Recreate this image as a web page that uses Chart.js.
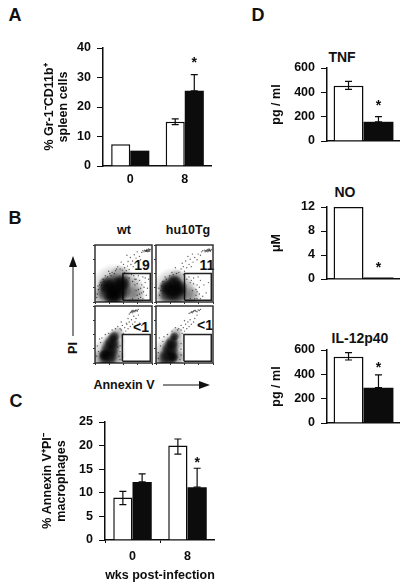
<!DOCTYPE html>
<html>
<head>
<meta charset="utf-8">
<script src="https://cdn.jsdelivr.net/npm/chart.js@4/dist/chart.umd.min.js"></script>
<style>
  body { margin: 0; background: #fff; width: 409px; height: 585px; position: relative; overflow: hidden; }
  canvas { position: absolute; }
  .t { position: absolute; font-family: "Liberation Sans", Arial, sans-serif; font-weight: bold; color: #111; white-space: nowrap; line-height: 1; transform: translate(-50%, -50%); }
  .letter { font-size: 18px; }
  .title { font-size: 14px; }
  .sub { font-size: 12.5px; }
  .gate { font-size: 14px; }
  svg { position: absolute; left: 0; top: 0; }
</style>
</head>
<body>
<div id="labels"></div>
<svg width="409" height="585">
  <line x1="73" y1="266" x2="73" y2="336" stroke="#111" stroke-width="1"/>
  <polygon points="73,256 69,267 77,267" fill="#111"/>
  <line x1="163" y1="385" x2="200" y2="385" stroke="#111" stroke-width="1"/>
  <polygon points="210,385 199,381 199,389" fill="#111"/>
</svg>
<script>
// panel A
const groupsA = ['0', '8'];
const whiteA = [7.4, 15];
const blackA = [5.2, 25.5];
const whiteErrA = [null, [14, 16]];
const blackErrA = [null, [25.5, 31]];
const starsA = [null, 36];

// panel C
const groupsC = ['0', '8'];
const whiteC = [9, 20];
const blackC = [12.3, 11.2];
const whiteErrC = [[7.5, 10.3], [18.2, 21.4]];
const blackErrC = [[12.3, 14], [11.2, 15.2]];
const starsC = [null, 17];

// panel D
const whiteTnf = [455];
const blackTnf = [158];
const whiteErrTnf = [[425, 490]];
const blackErrTnf = [[158, 200]];
const starsTnf = [312];

const whiteNo = [12];
const blackNo = [0.25];
const starsNo = [2.3];

const whiteIl = [545];
const blackIl = [290];
const whiteErrIl = [[518, 578]];
const blackErrIl = [[290, 395]];
const starsIl = [478];

// panel B, dot plots in percent of the box, r in px
const cloudWtInf = [
  {x:33,y:27,r:14},{x:24,y:18,r:12},{x:42,y:22,r:13},{x:38,y:12,r:11},{x:20,y:30,r:9},{x:48,y:34,r:9},{x:30,y:8,r:9}
];
const hazeWtInf = [
  {x:35,y:26,r:24},{x:62,y:24,r:15},{x:70,y:10,r:11},{x:10,y:12,r:10},{x:44,y:44,r:12}
];
const dotsWtInf = [
  [48,56],[52,60],[44,58],[57,63],[55,55],[60,57],[63,66],[50,66],[67,62],[58,71],[66,72],[70,68],[72,77],[62,78],[75,72],[78,80],[69,83],[80,74],[56,82],[74,88],
  [84,90],[87,91],[89,89],[91,92],[93,90],[95,91],[96,89],[92,88],[86,88],[94,93],[97,92],[90,90],[82,87],[40,62],[36,55],[30,52],[46,70],[28,46],[22,44],[14,40],
  [68,46],[72,40],[78,38],[82,30],[76,22],[85,18],[70,30],[88,34],[90,12],[80,8],[74,12],[92,24],[66,36],[60,42],[12,30],[6,22],[4,14],[10,34],[94,40],[84,44],
  [90,90],[92,91],[94,89],[95,92],[88,90],[91,89],[76,6],[82,16],[86,26],[80,24],[74,32],[70,40],[64,48],[58,50],[52,52],[34,50],[26,50],[18,46],[8,30],[3,8],
  [78,14],[72,20],[66,6],[84,6],[88,42],[76,46],[38,58],[24,54],[16,36],[5,28]
];
const cloudHuInf = [
  {x:29,y:26,r:13},{x:23,y:15,r:11},{x:36,y:14,r:11},{x:32,y:34,r:8},{x:42,y:24,r:8},{x:18,y:26,r:8}
];
const hazeHuInf = [
  {x:30,y:24,r:21},{x:50,y:18,r:14},{x:62,y:10,r:10},{x:12,y:8,r:8},{x:36,y:42,r:9}
];
const dotsHuInf = [
  [40,52],[44,58],[36,50],[48,62],[50,54],[54,60],[58,66],[46,68],[62,62],[52,72],[60,75],[65,70],[68,78],[56,80],[72,74],[74,84],[64,84],[78,82],[30,48],[34,60],
  [82,90],[85,91],[88,89],[90,92],[92,90],[94,91],[96,90],[91,88],[86,88],[93,93],[97,92],[89,90],[80,88],[72,18],[66,32],[62,38],[70,12],[76,26],[82,10],[68,6],
  [58,44],[54,40],[64,20],[78,38],[84,30],[88,16],[92,34],[74,44],[24,46],[18,40],[10,28],[8,20],[6,12],[12,36],[72,6],[60,6],
  [91,90],[93,92],[95,89],[94,91],[87,90],[76,14],[70,22],[66,42],[60,34],[72,30],[56,50],[48,48],[28,52],[16,44],[5,24],[78,6]
];
const cloudWtCtl = [
  {x:22,y:7,r:10},{x:24,y:17,r:10},{x:27,y:27,r:10},{x:30,y:37,r:8},{x:33,y:46,r:6},{x:16,y:14,r:6}
];
const hazeWtCtl = [
  {x:25,y:18,r:17},{x:33,y:38,r:12},{x:8,y:8,r:9},{x:40,y:52,r:7},{x:38,y:10,r:8}
];
const dotsWtCtl = [
  [50,52],[54,56],[46,58],[58,60],[52,62],[62,64],[56,68],[66,68],[60,72],[70,72],[64,76],[72,78],[68,82],[76,84],[58,78],[74,92],
  [62,88],[64,90],[66,91],[68,92],[70,90],[72,93],[60,86],[74,91],[66,88],[76,94],[55,70],[48,66],[44,60],[78,70],[82,66],[4,30],[8,42],[6,20],[12,44],[18,50],[44,20],[42,12],[44,30],
  [67,90],[69,91],[71,92],[63,89],[65,92],[46,72],[40,64],[36,60],[30,58],[24,52],[3,12],[10,36],[44,6],[40,28]
];
const cloudHuCtl = [
  {x:20,y:7,r:10},{x:23,y:17,r:10},{x:25,y:27,r:9},{x:28,y:36,r:7},{x:32,y:46,r:5},{x:30,y:10,r:6}
];
const hazeHuCtl = [
  {x:23,y:18,r:17},{x:32,y:38,r:11},{x:8,y:8,r:8},{x:36,y:52,r:7},{x:38,y:10,r:8}
];
const dotsHuCtl = [
  [46,52],[50,56],[44,58],[54,60],[48,62],[58,64],[52,68],[62,68],[56,72],[66,72],[60,76],[68,78],[50,74],[72,84],[44,66],[40,60],
  [60,88],[63,90],[66,91],[69,92],[72,90],[74,93],[58,87],[76,92],[64,88],[78,94],[8,30],[6,44],[14,46],[4,18],[20,50],[44,24],[44,14],[44,34],
  [65,90],[67,92],[70,91],[62,89],[38,58],[34,62],[28,56],[4,8],[12,38],[42,6]
];
const gateUpperWt = [[49,3],[97,3],[97,50],[49,50],[49,3]];
const gateUpperHu = [[50,3],[97,3],[97,50],[50,50],[50,3]];
const gateLowerWt = [[48,3],[97,3],[97,50],[48,50],[48,3]];
const gateLowerHu = [[49,3],[97,3],[97,50],[49,50],[49,3]];
const frame = [[0,0],[100,0],[100,100],[0,100],[0,0]];

const ink = '#0c0c0c';
const fontFamily = '"Liberation Sans", Arial, sans-serif';

const addLabel = (text, cls, x, y, rotate) => {
  const el = document.createElement('div');
  el.className = 't ' + cls;
  el.textContent = text;
  el.style.left = x + 'px';
  el.style.top = y + 'px';
  if (rotate) el.style.transform = 'translate(-50%, -50%) rotate(-90deg)';
  document.getElementById('labels').appendChild(el);
};

// error bars and significance stars
const barExtras = {
  id: 'barExtras',
  afterDatasetsDraw(chart) {
    const { ctx } = chart;
    const y = chart.scales.y;
    chart.data.datasets.forEach((ds, i) => {
      const meta = chart.getDatasetMeta(i);
      meta.data.forEach((bar, j) => {
        const err = ds.err && ds.err[j];
        if (err) {
          ctx.strokeStyle = ink;
          ctx.lineWidth = 1.2;
          ctx.beginPath();
          ctx.moveTo(bar.x, y.getPixelForValue(err[0]));
          ctx.lineTo(bar.x, y.getPixelForValue(err[1]));
          err.forEach((v) => {
            ctx.moveTo(bar.x - 3.5, y.getPixelForValue(v));
            ctx.lineTo(bar.x + 3.5, y.getPixelForValue(v));
          });
          ctx.stroke();
        }
        const star = ds.stars && ds.stars[j];
        if (star != null) {
          ctx.fillStyle = ink;
          ctx.font = 'bold 14px ' + fontFamily;
          ctx.textAlign = 'center';
          ctx.textBaseline = 'middle';
          ctx.fillText('*', bar.x, y.getPixelForValue(star) + 3);
        }
      });
    });
  }
};

const makeBars = (o) => {
  const topPad = 8;
  const canvas = document.createElement('canvas');
  const width = o.right - o.left;
  const height = o.bottom - o.top + topPad + o.xSpace;
  canvas.style.left = (o.axisX - o.ySpace) + 'px';
  canvas.style.top = (o.top - topPad) + 'px';
  canvas.width = width + o.ySpace;
  canvas.height = height;
  document.body.appendChild(canvas);
  new Chart(canvas, {
    type: 'bar',
    data: {
      labels: o.labels,
      datasets: [
        { data: o.white, backgroundColor: '#fff', borderColor: ink, borderWidth: 1.5, err: o.whiteErr },
        { data: o.black, backgroundColor: ink, borderColor: ink, borderWidth: 0, err: o.blackErr, stars: o.stars }
      ]
    },
    plugins: [barExtras],
    options: {
      responsive: false,
      animation: false,
      devicePixelRatio: 1,
      layout: { autoPadding: false, padding: { top: topPad, right: 0, bottom: 0, left: 0 } },
      plugins: { legend: { display: false }, tooltip: { enabled: false } },
      datasets: { bar: { categoryPercentage: o.catPct, barPercentage: 1 } },
      scales: {
        x: {
          afterFit: (s) => { s.height = o.xSpace; s.paddingLeft = 0; s.paddingRight = 0; },
          grid: { drawOnChartArea: false, drawTicks: o.xTick > 0, tickLength: o.xTick, color: ink },
          border: { color: ink, width: 1.5 },
          ticks: { display: o.labels[0] !== '', color: ink, padding: 6, maxRotation: 0, font: { family: fontFamily, weight: 'bold', size: 12.5 } },
          title: { display: !!o.xTitle, text: o.xTitle, color: ink, padding: 0, font: { family: fontFamily, weight: 'bold', size: 12.5 } }
        },
        y: {
          min: 0,
          max: o.max,
          afterFit: (s) => { s.width = o.ySpace; s.paddingTop = 0; s.paddingBottom = 0; },
          grid: { drawOnChartArea: false, tickLength: 6, color: ink },
          border: { color: ink, width: 1.5 },
          ticks: { stepSize: o.step, color: ink, padding: 6, font: { family: fontFamily, weight: 'bold', size: 12.5 } },
          title: { display: true, text: o.yTitle, color: ink, padding: 0, font: { family: fontFamily, weight: 'bold', size: 12.5, lineHeight: 1.14 } }
        }
      }
    }
  });
};

// soft fill so overlapping blobs read as point density, not discs
const softFill = (alpha) => (c) => {
  if (!c.raw) return 'transparent';
  const { x, y } = c.chart.scales;
  const px = x.getPixelForValue(c.raw.x);
  const py = y.getPixelForValue(c.raw.y);
  if (!Number.isFinite(px) || !Number.isFinite(py)) return 'transparent';
  const g = c.chart.ctx.createRadialGradient(px, py, 0, px, py, c.raw.r);
  g.addColorStop(0, `rgba(0,0,0,${alpha})`);
  g.addColorStop(0.55, `rgba(0,0,0,${alpha * 0.7})`);
  g.addColorStop(1, 'rgba(0,0,0,0)');
  return g;
};

const makeDots = (o) => {
  const canvas = document.createElement('canvas');
  canvas.style.left = (o.left - 3) + 'px';
  canvas.style.top = (o.top - 1) + 'px';
  canvas.style.filter = 'blur(0.3px)';
  canvas.width = o.size + 4;
  canvas.height = o.size + 4;
  document.body.appendChild(canvas);
  const xy = (pairs) => pairs.map((p) => ({ x: p[0], y: p[1] }));
  const rect = (pairs, color, width) => ({
    type: 'scatter', data: xy(pairs), showLine: true, fill: false, borderColor: color, borderWidth: width, pointRadius: 0, tension: 0, clip: 2
  });
  new Chart(canvas, {
    type: 'bubble',
    data: {
      datasets: [
        { data: o.haze, backgroundColor: softFill(0.3), borderWidth: 0 },
        { data: o.cloud, backgroundColor: softFill(0.8), borderWidth: 0 },
        { data: o.dots.map((p) => ({ x: p[0], y: p[1], r: 0.7 })), backgroundColor: 'rgba(30,30,30,0.7)', borderWidth: 0 },
        rect(o.gate, '#222', 1.5),
        rect(frame, '#333', 1.5)
      ]
    },
    options: {
      responsive: false,
      animation: false,
      devicePixelRatio: 1,
      layout: { autoPadding: false, padding: { top: 1, right: 1, bottom: 0, left: 0 } },
      plugins: { legend: { display: false }, tooltip: { enabled: false } },
      scales: {
        x: {
          min: 0, max: 100,
          afterFit: (s) => { s.height = 3; s.paddingLeft = 0; s.paddingRight = 0; },
          grid: { drawOnChartArea: false, tickLength: 2, color: '#333' },
          border: { display: false },
          ticks: { display: false, stepSize: 25 }
        },
        y: {
          min: 0, max: 100,
          afterFit: (s) => { s.width = 3; s.paddingTop = 0; s.paddingBottom = 0; },
          grid: { drawOnChartArea: false, tickLength: 2, color: '#333' },
          border: { display: false },
          ticks: { display: false, stepSize: 25 }
        }
      }
    }
  });
};

makeBars({
  labels: groupsA, white: whiteA, black: blackA, whiteErr: whiteErrA, blackErr: blackErrA, stars: starsA,
  axisX: 103, ySpace: 61, left: 103, right: 212, top: 48, bottom: 166, xSpace: 22, xTick: 0,
  max: 40, step: 10, catPct: 0.7, yTitle: ['% Gr-1⁻CD11b⁺', 'spleen cells']
});
makeBars({
  labels: groupsC, white: whiteC, black: blackC, whiteErr: whiteErrC, blackErr: blackErrC, stars: starsC,
  axisX: 105, ySpace: 65, left: 105, right: 215, top: 422, bottom: 540, xSpace: 43, xTick: 3, xTitle: 'wks post-infection',
  max: 25, step: 5, catPct: 0.7, yTitle: ['% Annexin V⁺PI⁻', 'macrophages']
});
makeBars({
  labels: [''], white: whiteTnf, black: blackTnf, whiteErr: whiteErrTnf, blackErr: blackErrTnf, stars: starsTnf,
  axisX: 327, ySpace: 58, left: 327, right: 400, top: 68, bottom: 141, xSpace: 4, xTick: 0,
  max: 600, step: 200, catPct: 0.82, yTitle: 'pg / ml'
});
makeBars({
  labels: [''], white: whiteNo, black: blackNo, stars: starsNo,
  axisX: 327, ySpace: 58, left: 327, right: 400, top: 207, bottom: 279, xSpace: 4, xTick: 0,
  max: 12, step: 4, catPct: 0.82, yTitle: 'μM'
});
makeBars({
  labels: [''], white: whiteIl, black: blackIl, whiteErr: whiteErrIl, blackErr: blackErrIl, stars: starsIl,
  axisX: 327, ySpace: 58, left: 327, right: 400, top: 350, bottom: 423, xSpace: 4, xTick: 0,
  max: 600, step: 200, catPct: 0.82, yTitle: 'pg / ml'
});

makeDots({ left: 95, top: 245, size: 57, haze: hazeWtInf, cloud: cloudWtInf, dots: dotsWtInf, gate: gateUpperWt });
makeDots({ left: 156, top: 245, size: 57, haze: hazeHuInf, cloud: cloudHuInf, dots: dotsHuInf, gate: gateUpperHu });
makeDots({ left: 95, top: 306, size: 57, haze: hazeWtCtl, cloud: cloudWtCtl, dots: dotsWtCtl, gate: gateLowerWt });
makeDots({ left: 156, top: 306, size: 57, haze: hazeHuCtl, cloud: cloudHuCtl, dots: dotsHuCtl, gate: gateLowerHu });

addLabel('A', 'letter', 15, 15);
addLabel('B', 'letter', 15, 218);
addLabel('C', 'letter', 16, 401);
addLabel('D', 'letter', 258, 15);
addLabel('TNF', 'title', 342, 57);
addLabel('NO', 'title', 345, 192);
addLabel('IL-12p40', 'title', 360, 338);
addLabel('wt', 'sub', 124, 230);
addLabel('hu10Tg', 'sub', 188, 230);
addLabel('19', 'gate', 142, 265);
addLabel('11', 'gate', 207, 265);
addLabel('<1', 'gate', 141, 327);
addLabel('<1', 'gate', 205, 325);
addLabel('PI', 'sub', 73, 348, true);
addLabel('Annexin V', 'sub', 124, 385);
</script>
</body>
</html>
